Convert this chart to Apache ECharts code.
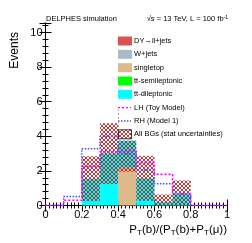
<!DOCTYPE html>
<html><head><meta charset="utf-8">
<script src="https://cdn.jsdelivr.net/npm/echarts@6/dist/echarts.min.js"></script>
<style>html,body{margin:0;padding:0;background:#fff}#c{width:252px;height:243px}</style>
</head><body><div id="c"></div>
<script>
// ---- data ----
const binEdges = [0, 0.1, 0.2, 0.3, 0.4, 0.5, 0.6, 0.7, 0.8, 0.9, 1.0];
const dyJets      = [0, 0, 0, 0, 0, 0, 0, 0, 0, 0];
const wJets       = [0, 0, 0, 0, 0, 0, 0, 0, 0, 0];
const singleTop   = [0, 0, 0, 0, 2.2, 0, 0, 0, 0, 0];
const ttSemi      = [0, 0, 0, 0, 0, 0, 0, 0, 0, 0];
const ttDi        = [0, 0, 1.55, 3.0, 1.55, 1.57, 0.19, 0.7, 0, 0];
const bgStatErr   = [0, 0, 1.3, 1.75, 1.8, 1.3, 0.45, 0.75, 0, 0];
const lhToy       = [0, 0.3, 2.25, 3.1, 3.15, 2.48, 1.8, 0.68, 0, 0];
const rhModel1    = [0, 0.52, 3.28, 4.0, 3.0, 2.05, 1.26, 0.68, 0, 0];
const xTicks = [0, 0.2, 0.4, 0.6, 0.8, 1];
const yTicks = [0, 2, 4, 6, 8, 10];

const FONT = 'Liberation Sans, Arial, Helvetica, sans-serif';
const C = {dy:'#d9534f', w:'#a7bcc9', st:'#ddb98b', semi:'#00ff00', di:'#00ffff', lh:'#ff00ff', rh:'#4b4bff', hatch:'#b82626'};

// hatch pattern
const pc = document.createElement('canvas');
pc.width = 4; pc.height = 4;
const g = pc.getContext('2d');
g.strokeStyle = C.hatch; g.lineWidth = 0.9;
g.beginPath();
g.moveTo(-1, 5); g.lineTo(5, -1);
g.moveTo(-1, 1); g.lineTo(1, -1);
g.moveTo(3, 5); g.lineTo(5, 3);
g.moveTo(-1, -1); g.lineTo(5, 5);
g.moveTo(-1, 3); g.lineTo(1, 5);
g.moveTo(3, -1); g.lineTo(5, 1);
g.stroke();
const hatchFill = {type: 'pattern', image: pc, repeat: 'repeat'};

// stacked tables
const stackOrder = [
  {name:'DY', vals: dyJets, color: C.dy},
  {name:'W+jets', vals: wJets, color: C.w},
  {name:'singletop', vals: singleTop, color: C.st},
  {name:'tt-semileptonic', vals: ttSemi, color: C.semi},
  {name:'tt-dileptonic', vals: ttDi, color: C.di}
];
const base = new Array(10).fill(0);
const stackSeries = stackOrder.map(s => {
  const rows = [];
  for (let i = 0; i < 10; i++) {
    rows.push([binEdges[i], binEdges[i+1], base[i], base[i] + s.vals[i]]);
    base[i] += s.vals[i];
  }
  return {
    type: 'custom', name: s.name, z: 2,
    data: rows, encode: {x: [0, 1], y: [2, 3]},
    renderItem: (params, api) => {
      const p0 = api.coord([api.value(0), api.value(3)]);
      const p1 = api.coord([api.value(1), api.value(2)]);
      if (Math.abs(p1[1] - p0[1]) < 0.01) return null;
      return {type: 'rect', shape: {x: p0[0], y: p0[1], width: p1[0] - p0[0], height: p1[1] - p0[1]},
        style: {fill: s.color}};
    }
  };
});
const bandRows = [];
for (let i = 0; i < 10; i++) {
  bandRows.push([binEdges[i], binEdges[i+1], Math.max(0, base[i] - bgStatErr[i]), base[i] + bgStatErr[i]]);
}
const bandSeries = {
  type: 'custom', name: 'All BGs', z: 3, data: bandRows, encode: {x: [0, 1], y: [2, 3]},
  renderItem: (params, api) => {
    const p0 = api.coord([api.value(0), api.value(3)]);
    const p1 = api.coord([api.value(1), api.value(2)]);
    if (Math.abs(p1[1] - p0[1]) < 0.01) return null;
    return {type: 'rect', shape: {x: p0[0], y: p0[1], width: p1[0] - p0[0], height: p1[1] - p0[1]},
      style: {fill: hatchFill}};
  }
};
function stepData(v) {
  const d = v.map((y, i) => [binEdges[i], y]);
  d.push([binEdges[10], v[9]]);
  return d;
}
const lineSeries = [
  {type: 'line', name: 'RH', step: 'end', data: stepData(rhModel1), symbol: 'none', z: 5,
   lineStyle: {color: C.rh, width: 1.4, type: [1.5, 1.5]}},
  {type: 'line', name: 'LH', step: 'end', data: stepData(lhToy), symbol: 'none', z: 6,
   lineStyle: {color: C.lh, width: 1.6, type: [2, 2]}}
];

// legend graphics
const LX = 118, LT = 134;
const legendRows = [
  {t: 'DY\u2192ll+jets', kind: 'box', c: C.dy},
  {t: 'W+jets', kind: 'box', c: C.w},
  {t: 'singletop', kind: 'box', c: C.st},
  {t: 'tt-semileptonic', kind: 'box', c: C.semi},
  {t: 'tt-dileptonic', kind: 'box', c: C.di},
  {t: 'LH (Toy Model)', kind: 'line', c: C.lh, dash: [2, 2]},
  {t: 'RH (Model 1)', kind: 'line', c: C.rh, dash: [1.5, 1.5]},
  {t: 'All BGs (stat uncertainties)', kind: 'hatch'}
];
const graphics = [{type: 'rect', z: 50, shape: {x: 118.6, y: 33, width: 101, height: 107.6}, style: {fill: '#fff'}}];
legendRows.forEach((r, i) => {
  const cy = 41 + i * 13.33;
  if (r.kind === 'box') graphics.push({type: 'rect', z: 51, shape: {x: LX, y: cy - 4.5, width: 14, height: 9}, style: {fill: r.c}});
  else if (r.kind === 'line') graphics.push({type: 'line', z: 51, shape: {x1: LX, y1: cy, x2: LX + 13, y2: cy}, style: {stroke: r.c, lineWidth: 1.4, lineDash: r.dash}});
  else graphics.push({type: 'rect', z: 51, shape: {x: LX + 0.5, y: cy - 4.5, width: 13, height: 9}, style: {fill: hatchFill, stroke: '#333', lineWidth: 1}});
  graphics.push({type: 'text', z: 51, x: LT, y: cy, style: {text: r.t, font: '7.5px ' + FONT, fill: '#000', textVerticalAlign: 'middle'}});
});
graphics.push({type: 'text', z: 51, x: 46, y: 19, style: {text: 'DELPHES simulation', font: '7.5px ' + FONT, fill: '#000', textVerticalAlign: 'middle'}});
graphics.push({type: 'text', z: 51, x: 228, y: 19, style: {
  rich: {n: {fontSize: 7.5, fontFamily: FONT}, sup: {fontSize: 5, fontFamily: FONT, verticalAlign: 'top', padding: [0, 0, 3, 0]}},
  text: '{n|\u221As = 13 TeV, L = 100 fb}{sup|-1}', fill: '#000', align: 'right', verticalAlign: 'middle'}});
graphics.push({type: 'text', z: 51, x: 15, y: 32, rotation: Math.PI / 2, style: {text: 'Events', font: '12px ' + FONT, fill: '#000', align: 'right', verticalAlign: 'middle'}});
graphics.push({type: 'text', z: 51, x: 227, y: 230, style: {
  rich: {n: {fontSize: 11.5, fontFamily: FONT}, s: {fontSize: 8, fontFamily: FONT, padding: [6, 0, 0, 0]}},
  text: '{n|P}{s|T}{n|(b)/(P}{s|T}{n|(b)+P}{s|T}{n|(\u03bc))}', fill: '#000', align: 'right', verticalAlign: 'middle'}});

const axisCommon = {
  axisLine: {show: true, lineStyle: {color: '#000', width: 1}},
  splitLine: {show: false},
  axisTick: {show: true, inside: true, length: 6, lineStyle: {color: '#000'}},
  minorTick: {show: true, length: 3, lineStyle: {color: '#000'}}
};
const option = {
  animation: false,
  backgroundColor: '#fff',
  grid: {left: 45.5, right: 25, top: 23, bottom: 37.5, show: false},
  xAxis: [
    Object.assign({}, axisCommon, {type: 'value', min: 0, max: 1, interval: 0.2, position: 'bottom',
      minorTick: {show: true, splitNumber: 10, length: 3, lineStyle: {color: '#000'}},
      axisLabel: {fontSize: 11, fontFamily: FONT, color: '#000', margin: 4,
        formatter: v => xTicks.some(t => Math.abs(t - v) < 1e-6) ? String(+v.toFixed(1)) : ''}}),
    Object.assign({}, axisCommon, {type: 'value', min: 0, max: 1, interval: 0.2, position: 'top',
      minorTick: {show: true, splitNumber: 10, length: 3, lineStyle: {color: '#000'}},
      axisLabel: {show: false}})
  ],
  yAxis: [
    Object.assign({}, axisCommon, {type: 'value', min: 0, max: 10.55, interval: 2, position: 'left',
      minorTick: {show: true, splitNumber: 5, length: 3, lineStyle: {color: '#000'}},
      axisLabel: {fontSize: 11, fontFamily: FONT, color: '#000', margin: 3,
        formatter: v => yTicks.some(t => Math.abs(t - v) < 1e-6) ? String(Math.round(v)) : ''}}),
    Object.assign({}, axisCommon, {type: 'value', min: 0, max: 10.55, interval: 2, position: 'right',
      minorTick: {show: true, splitNumber: 5, length: 3, lineStyle: {color: '#000'}},
      axisLabel: {show: false}})
  ],
  series: [...stackSeries, bandSeries, ...lineSeries],
  graphic: graphics
};
const chart = echarts.init(document.getElementById('c'), null, {renderer: 'canvas'});
chart.setOption(option);
</script></body></html>
